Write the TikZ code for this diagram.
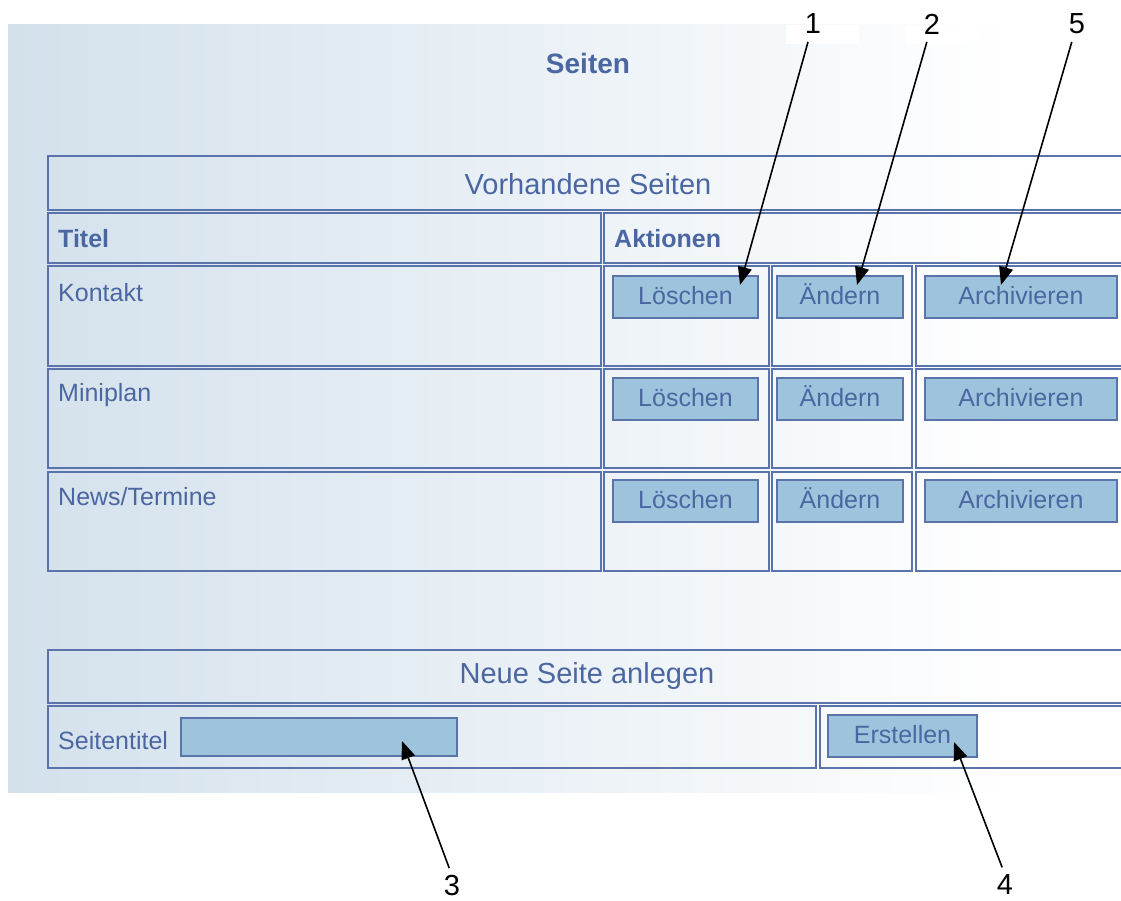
\documentclass[tikz,border=0pt]{standalone}
\usepackage{fontspec}
\setmainfont{Liberation Sans}
\usetikzlibrary{arrows.meta}
\definecolor{uitext}{HTML}{4B67A1}
\definecolor{uiline}{HTML}{5B73AB}
\definecolor{btnfill}{HTML}{9EC4DD}
\definecolor{bgblue}{HTML}{D3E1EC}
\newcommand\uicell[5]{%
  \node[uicellstyle, minimum width={(#4-#2)*1pt}, minimum height={(#5-#3)*1pt}] (#1) at (#2,#3) {};}
\tikzset{
  uicellstyle/.style={draw=uiline, line width=1.6pt, anchor=north west, inner sep=0pt, rectangle},
  uibtn/.style={draw=uiline, line width=1.6pt, fill=btnfill, text=uitext, inner sep=0pt,
    font=\fontsize{25}{25}\selectfont, minimum height=42pt, text height=18pt, text depth=4pt},
  uitxt/.style={text=uitext, inner sep=0pt, font=\fontsize{25}{25}\selectfont},
  uihead/.style={text=uitext, inner sep=0pt, font=\fontsize{29}{29}\selectfont},
  uibold/.style={text=uitext, inner sep=0pt, font=\fontsize{25}{25}\selectfont\bfseries},
  numlbl/.style={text=black, inner sep=0pt, font=\fontsize{29}{29}\selectfont},
  callout/.style={draw=black, line width=1.6pt, -{Triangle[length=18pt,width=14pt]}},
}
\begin{document}
\begin{tikzpicture}[x=1pt,y=-1pt]
\useasboundingbox (0,0) rectangle (1121,901);
\clip (0,0) rectangle (1121,901);
% background of the screenshot
\shade[left color=bgblue, right color=white] (8,25) rectangle (1010,792);
\fill[white] (786,25) rectangle (859,44);
\fill[white] (906,25) rectangle (978,44);
% title
\node[text=uitext, inner sep=0pt, font=\fontsize{28}{28}\selectfont\bfseries] (title) at (588,63) {Seiten};
% table of existing pages
\uicell{hdr}{47}{155}{1140}{209}
\node[uihead] (hdrtxt) at (588,184) {Vorhandene Seiten};
\uicell{ctitel}{47}{212}{600}{262}
\uicell{caktion}{603}{212}{1140}{262}
\node[uibold, anchor=west] (titel) at (58,239) {Titel};
\node[uibold, anchor=west] (aktion) at (614,239) {Aktionen};
% rows
\uicell{r1a}{47}{265}{600}{365}
\uicell{r1b}{603}{265}{768}{365}
\uicell{r1c}{771}{265}{911}{365}
\uicell{r1d}{915}{265}{1140}{365}
\uicell{r2a}{47}{368}{600}{467}
\uicell{r2b}{603}{368}{768}{467}
\uicell{r2c}{771}{368}{911}{467}
\uicell{r2d}{915}{368}{1140}{467}
\uicell{r3a}{47}{471}{600}{570}
\uicell{r3b}{603}{471}{768}{570}
\uicell{r3c}{771}{471}{911}{570}
\uicell{r3d}{915}{471}{1140}{570}
\node[uitxt, anchor=west] (kontakt) at (58,293) {Kontakt};
\node[uitxt, anchor=west] (miniplan) at (58,395) {Miniplan};
\node[uitxt, anchor=west] (news) at (58,497) {News/Termine};
\node[uibtn, minimum width=145pt] (l1) at (685.5,297) {Löschen};
\node[uibtn, minimum width=126pt] (a1) at (840,297) {Ändern};
\node[uibtn, minimum width=192pt] (v1) at (1021,297) {Archivieren};
\node[uibtn, minimum width=145pt] (l2) at (685.5,399) {Löschen};
\node[uibtn, minimum width=126pt] (a2) at (840,399) {Ändern};
\node[uibtn, minimum width=192pt] (v2) at (1021,399) {Archivieren};
\node[uibtn, minimum width=145pt] (l3) at (685.5,501) {Löschen};
\node[uibtn, minimum width=126pt] (a3) at (840,501) {Ändern};
\node[uibtn, minimum width=192pt] (v3) at (1021,501) {Archivieren};
% new page
\uicell{nhdr}{47}{649}{1140}{702}
\node[uihead] (nhdrtxt) at (587,676) {Neue Seite anlegen};
\uicell{nleft}{47}{705}{815}{767}
\uicell{nright}{819}{705}{1140}{767}
\node[uitxt, anchor=west] (stitel) at (58,741) {Seitentitel};
\node[uibtn, minimum width=276pt, minimum height=38pt] (input) at (319,737) {};
\node[uibtn, minimum width=149pt] (erst) at (902.5,736) {Erstellen};
% callouts
\coordinate (t1) at (740,285);
\coordinate (t2) at (857,285);
\coordinate (t5) at (1001,285);
\coordinate (t3) at (402,741);
\coordinate (t4) at (954,742);
\node[numlbl] (n1) at (813,24) {1};
\node[numlbl] (n2) at (932,24) {2};
\node[numlbl] (n5) at (1077,24) {5};
\node[numlbl] (n3) at (452,886) {3};
\node[numlbl] (n4) at (1005,885) {4};
\draw[callout, shorten <=8pt] (n1) -- (t1);
\draw[callout, shorten <=8pt] (n2) -- (t2);
\draw[callout, shorten <=8pt] (n5) -- (t5);
\draw[callout, shorten <=8pt] (n3.north) -- (t3);
\draw[callout, shorten <=8pt] (n4.north) -- (t4);
\end{tikzpicture}
\end{document}
